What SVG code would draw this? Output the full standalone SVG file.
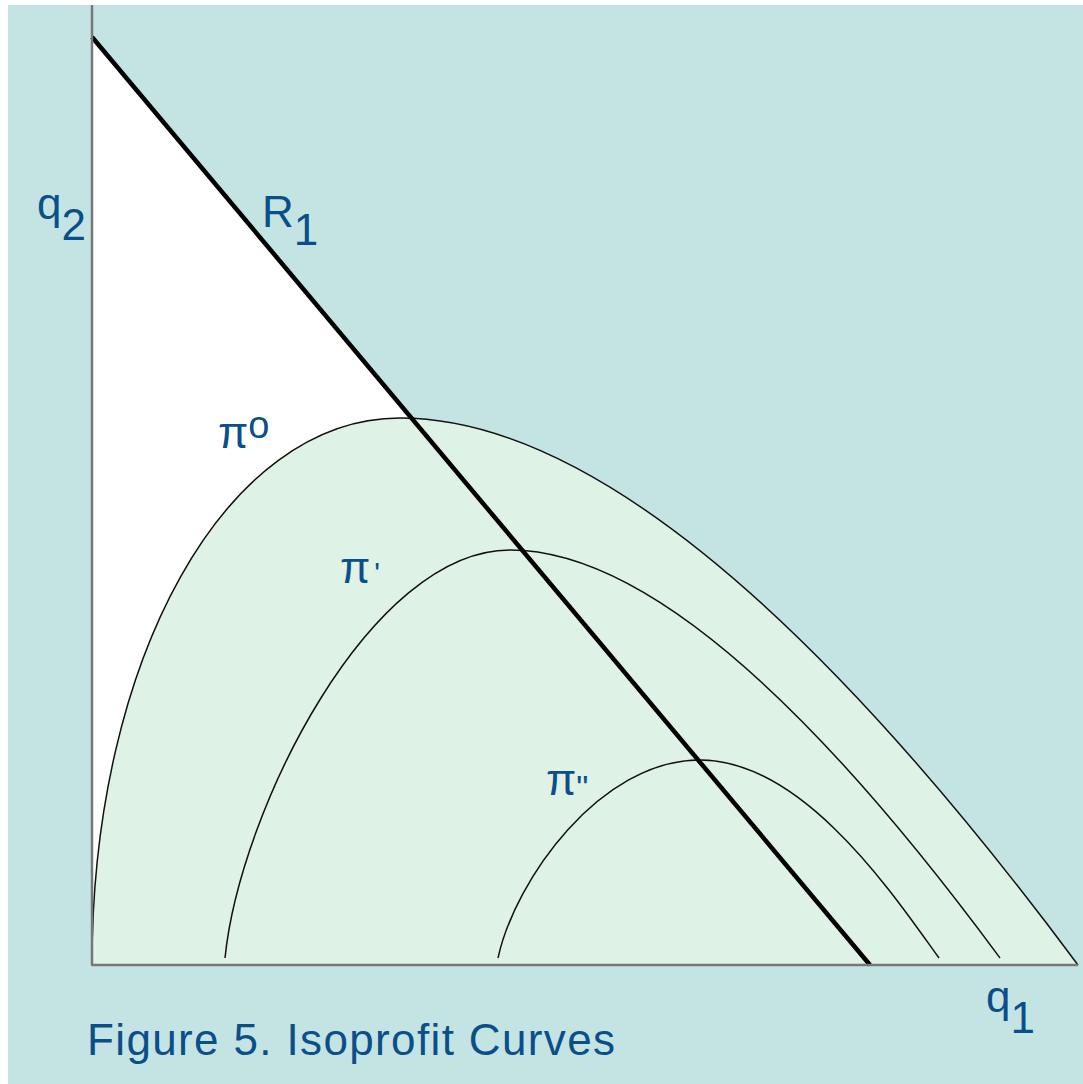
<svg xmlns="http://www.w3.org/2000/svg" width="1083" height="1084" viewBox="0 0 1083 1084">
<style>
.lbl{font-family:"Liberation Sans",Arial,sans-serif;fill:#0b4f8a;font-size:44px}
.curve{fill:none;stroke:#111;stroke-width:1.5}
.axis{stroke:#777;stroke-width:2.5;fill:none}
</style>
<rect x="0" y="0" width="1083" height="1084" fill="#ffffff"/>
<rect x="8" y="5" width="1075" height="1079" fill="#c4e4e3"/>
<g id="white-region"><polygon points="92,37 870,965 92,965" fill="#ffffff"/></g>
<g id="pi0-fill"><path d="M92,965 C92,660 225,418 400,418 C670,418 985,840 1078,965 Z" fill="#dff2e6"/></g>
<g id="connectors">
<path id="pi0" class="curve" d="M92,965 C92,660 225,418 400,418 C670,418 985,840 1078,965"/>
<path id="pi1" class="curve" d="M225,958 C240,810 370,550 510,550 C700,550 935,870 1000,958"/>
<path id="pi2" class="curve" d="M498,958 C515,880 600,760 700,760 C805,760 897,900 939,958"/>
<line id="R1-line" x1="92" y1="37" x2="870" y2="965" stroke="#000" stroke-width="4.5"/>
<line id="y-axis" class="axis" x1="92" y1="5" x2="92" y2="965"/>
<line id="x-axis" class="axis" x1="91" y1="965" x2="1078" y2="965"/>
</g>
<g id="label-q2"><text class="lbl" x="37" y="219">q<tspan dy="21">2</tspan></text></g>
<g id="label-R1"><text class="lbl" x="262" y="227">R<tspan dy="18">1</tspan></text></g>
<g id="label-q1"><text class="lbl" x="986" y="1012" font-size="46">q<tspan dy="21">1</tspan></text></g>
<g id="label-pi0"><text class="lbl" x="218" y="448">π<tspan font-size="38" dy="-10">o</tspan></text></g>
<g id="label-pi1"><text class="lbl" x="340" y="583" font-size="42">π<tspan font-size="30" dx="4">'</tspan></text></g>
<g id="label-pi2"><text class="lbl" x="546" y="795" font-size="42">π<tspan font-size="34" dy="4">"</tspan></text></g>
<g id="caption"><text class="lbl" x="87" y="1055" font-size="46" textLength="528" lengthAdjust="spacing">Figure 5. Isoprofit Curves</text></g>
</svg>
